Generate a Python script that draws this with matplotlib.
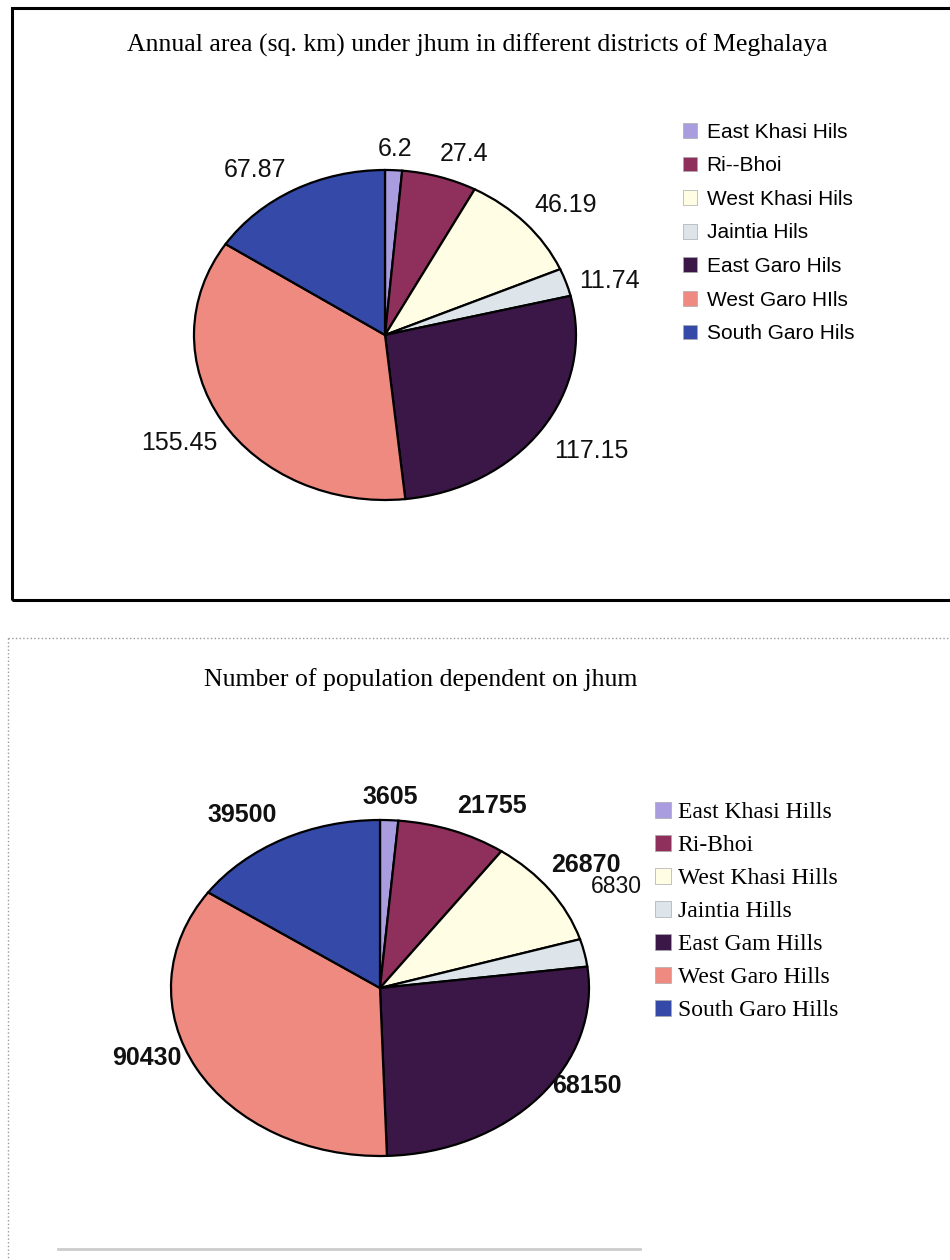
import numpy as np
import matplotlib
matplotlib.use('Agg')
import matplotlib.pyplot as plt
from matplotlib.patches import Patch, Rectangle
from matplotlib.lines import Line2D

# 数据
districts_top = ['East Khasi Hils', 'Ri--Bhoi', 'West Khasi Hils', 'Jaintia Hils',
                 'East Garo Hils', 'West Garo HIls', 'South Garo Hils']
districts_bottom = ['East Khasi Hills', 'Ri-Bhoi', 'West Khasi Hills', 'Jaintia Hills',
                    'East Gam Hills', 'West Garo Hills', 'South Garo Hills']
area_km2 = [6.2, 27.4, 46.19, 11.74, 117.15, 155.45, 67.87]
population = [3605, 21755, 26870, 6830, 68150, 90430, 39500]
area_labels = ['6.2', '27.4', '46.19', '11.74', '117.15', '155.45', '67.87']
pop_labels = ['3605', '21755', '26870', '6830', '68150', '90430', '39500']

colors = ['#a99de0', '#8e2f5c', '#fffde4', '#dde5ea', '#3b1747', '#ee8a80', '#3449a8']

W, H = 950, 1260
fig = plt.figure(figsize=(W / 100, H / 100), dpi=100)


def px_axes(cx, cy, rx, ry, span=1.5):
    # 以像素定位饼图中心和半径（y 从上往下）
    w, h = 2 * span * rx, 2 * span * ry
    ax = fig.add_axes([(cx - w / 2) / W, 1 - (cy + h / 2) / H, w / W, h / H])
    return ax


def draw_pie(ax, values, labels, dists, shifts, fontsize, weight, special=None):
    wedges, _ = ax.pie(values, colors=colors, startangle=90, counterclock=False,
                       wedgeprops=dict(edgecolor='black', linewidth=1.6))
    ax.set_aspect('auto')
    ax.set_xlim(-1.5, 1.5)
    ax.set_ylim(-1.5, 1.5)
    for i, (w, lab) in enumerate(zip(wedges, labels)):
        ang = np.deg2rad((w.theta1 + w.theta2) / 2 + shifts[i])
        fw = weight
        fs = fontsize
        if special is not None and i == special:
            fw = 'normal'
            fs = fontsize - 1.5
        ax.text(dists[i] * np.cos(ang), dists[i] * np.sin(ang), lab,
                ha='center', va='center', fontsize=fs, fontweight=fw,
                family='Liberation Sans', color='#111111')
    return wedges


# 外框
fig.add_artist(Rectangle((12 / W, 1 - 600 / H), 1.0, (600 - 8) / H,
                         transform=fig.transFigure, fill=False,
                         edgecolor='black', linewidth=2.2))
fig.add_artist(Line2D([8 / W, 8 / W], [1 - 638 / H, 0], transform=fig.transFigure,
                      color='#9a9a9a', linewidth=1, linestyle=':'))
fig.add_artist(Line2D([8 / W, 1], [1 - 638 / H, 1 - 638 / H], transform=fig.transFigure,
                      color='#9a9a9a', linewidth=1, linestyle=':'))
fig.add_artist(Line2D([58 / W, 640 / W], [1 - 1249 / H, 1 - 1249 / H],
                      transform=fig.transFigure, color='#cccccc', linewidth=2))

# 上图：面积
fig.text(477 / W, 1 - 45 / H, 'Annual area (sq. km) under jhum in different districts of Meghalaya',
         ha='center', va='center', fontsize=18.5, family='Liberation Serif')
ax1 = px_axes(385, 335, 191, 165)
draw_pie(ax1, area_km2, area_labels,
         [1.13, 1.17, 1.23, 1.22, 1.29, 1.26, 1.21],
         [0, -4, -3, -3, 2, 0, 6], 18, 'normal')
h1 = [Patch(facecolor=c, edgecolor='#aaaaaa', linewidth=0.5) for c in colors]
fig.legend(h1, districts_top, loc='upper left', bbox_to_anchor=(664 / W, 1 - 104 / H),
           frameon=False, prop={'family': 'Liberation Sans', 'size': 15},
           handlelength=0.7, handleheight=0.7, handletextpad=0.45, labelspacing=0.7)

# 下图：人口
fig.text(421 / W, 1 - 680 / H, 'Number of population dependent on jhum',
         ha='center', va='center', fontsize=18.5, family='Liberation Serif')
ax2 = px_axes(380, 988, 209, 168)
draw_pie(ax2, population, pop_labels,
         [1.14, 1.21, 1.23, 1.28, 1.15, 1.19, 1.22],
         [0, -6, 1, 16, 10, -8, 5], 18, 'bold', special=3)
h2 = [Patch(facecolor=c, edgecolor='#aaaaaa', linewidth=0.5) for c in colors]
fig.legend(h2, districts_bottom, loc='upper left', bbox_to_anchor=(634 / W, 1 - 781 / H),
           frameon=False, prop={'family': 'Liberation Serif', 'size': 17},
           handlelength=0.65, handleheight=0.65, handletextpad=0.3, labelspacing=0.5)

fig.savefig('out.png', dpi=100)
